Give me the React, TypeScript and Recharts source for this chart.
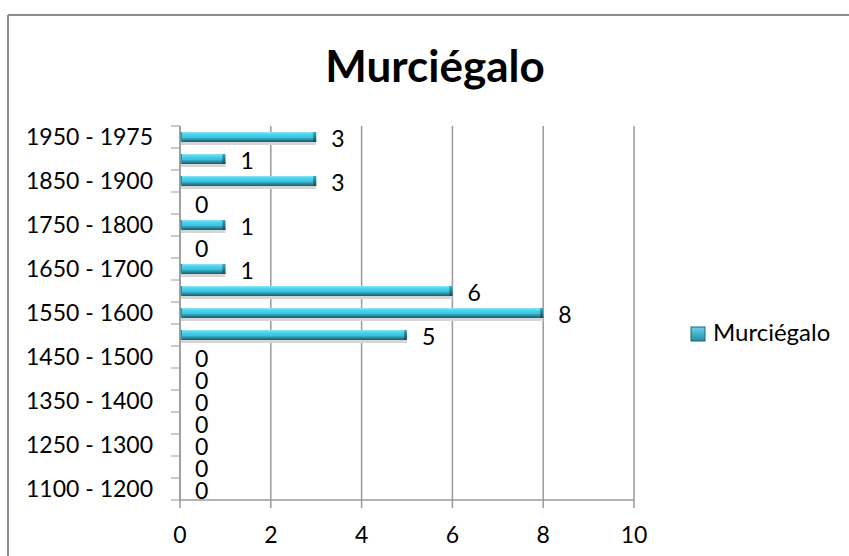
import React from "react";
import {
  BarChart,
  Bar,
  XAxis,
  YAxis,
  CartesianGrid,
  LabelList,
} from "recharts";

// periods listed top to bottom, as drawn on the category axis
const periods = [
  "1950 - 1975",
  "1900 - 1950",
  "1850 - 1900",
  "1800 - 1850",
  "1750 - 1800",
  "1700 - 1750",
  "1650 - 1700",
  "1600 - 1650",
  "1550 - 1600",
  "1500 - 1550",
  "1450 - 1500",
  "1400 - 1450",
  "1350 - 1400",
  "1300 - 1350",
  "1250 - 1300",
  "1200 - 1250",
  "1100 - 1200",
];
const murcielago = [3, 1, 3, 0, 1, 0, 1, 6, 8, 5, 0, 0, 0, 0, 0, 0, 0];
const xTicks = [0, 2, 4, 6, 8, 10];

const seriesName = "Murciégalo";
const data = periods.map((p, i) => ({ period: p, value: murcielago[i] }));

const W = 849;
const H = 556;
const FONT = "Lato, 'Open Sans', sans-serif";
const AXIS = "#9a9a9a";
const HALF_BAND = 11;

const BarShape = (props: any) => {
  const { x, y, width, height } = props;
  if (!width || width <= 0) return null;
  return (
    <g>
      <rect x={x} y={y + height} width={width} height={3} fill="#d6d6d6" />
      <rect x={x} y={y} width={width} height={height} fill="url(#barFill)" />
      <rect x={x} y={y} width={2} height={height} fill="#2a8ea4" />
      <rect x={x + width - 3} y={y} width={3} height={height} fill="url(#capFill)" />
    </g>
  );
};

const PeriodTick = (props: any) => {
  const { x, y, index, payload } = props;
  const last = index === periods.length - 1;
  return (
    <g>
      <line x1={x - 9} x2={x} y1={y - HALF_BAND} y2={y - HALF_BAND} stroke={AXIS} />
      {last && (
        <line x1={x - 9} x2={x} y1={y + HALF_BAND} y2={y + HALF_BAND} stroke={AXIS} />
      )}
      {index % 2 === 0 && (
        <text
          x={x - 27}
          y={y}
          dy="0.36em"
          textAnchor="end"
          fontFamily={FONT}
          fontSize={23}
          fill="#000"
        >
          {payload.value}
        </text>
      )}
    </g>
  );
};

export default function App() {
  return (
    <div style={{ position: "absolute", left: 0, top: 0, width: W, height: H, background: "#fff" }}>
      <BarChart
        width={W}
        height={H}
        data={data}
        layout="vertical"
        margin={{ top: 126, right: 215, bottom: 16, left: 0 }}
      >
        <defs>
          <linearGradient id="barFill" x1="0" y1="0" x2="0" y2="1">
            <stop offset="0%" stopColor="#8ee8f7" />
            <stop offset="20%" stopColor="#4fd6ee" />
            <stop offset="55%" stopColor="#3ac2dc" />
            <stop offset="75%" stopColor="#2b8fa5" />
            <stop offset="100%" stopColor="#1c5a6a" />
          </linearGradient>
          <linearGradient id="capFill" x1="0" y1="0" x2="0" y2="1">
            <stop offset="0%" stopColor="#3fa9bf" />
            <stop offset="100%" stopColor="#174b58" />
          </linearGradient>
        </defs>
        <CartesianGrid horizontal={false} stroke={AXIS} strokeWidth={1.5} />
        <XAxis
          type="number"
          domain={[0, 10]}
          ticks={xTicks}
          stroke={AXIS}
          strokeWidth={1.5}
          tickSize={8}
          tickMargin={19}
          height={40}
          tick={{ fill: "#000", fontFamily: FONT, fontSize: 23 }}
        />
        <YAxis
          type="category"
          dataKey="period"
          width={180}
          interval={0}
          stroke={AXIS}
          strokeWidth={1.5}
          tickLine={false}
          tickSize={0}
          tickMargin={0}
          tick={<PeriodTick />}
        />
        <Bar
          dataKey="value"
          name={seriesName}
          barSize={10}
          shape={<BarShape />}
          isAnimationActive={false}
        >
          <LabelList
            dataKey="value"
            position="right"
            offset={15}
            fill="#000"
            fontFamily={FONT}
            fontSize={23}
            dy={2}
          />
        </Bar>
      </BarChart>
      <svg
        width={W}
        height={H}
        style={{ position: "absolute", left: 0, top: 0, pointerEvents: "none" }}
      >
        <defs>
          <linearGradient id="legendFill" x1="0" y1="0" x2="0" y2="1">
            <stop offset="0%" stopColor="#5fd8ee" />
            <stop offset="100%" stopColor="#2a8aa0" />
          </linearGradient>
        </defs>
        <line x1={8} x2={W} y1={15} y2={15} stroke="#8c8c8c" strokeWidth={2} />
        <line x1={8} x2={8} y1={15} y2={H} stroke="#8c8c8c" strokeWidth={2} />
        <text
          x={435}
          y={82}
          textAnchor="middle"
          fontFamily={FONT}
          fontWeight={700}
          fontSize={44}
          fill="#000"
        >
          {seriesName}
        </text>
        <rect x={691} y={327} width={14} height={14} fill="url(#legendFill)" stroke="#1f6476" />
        <text x={713} y={341} fontFamily={FONT} fontSize={24} fill="#000">
          {seriesName}
        </text>
      </svg>
    </div>
  );
}
